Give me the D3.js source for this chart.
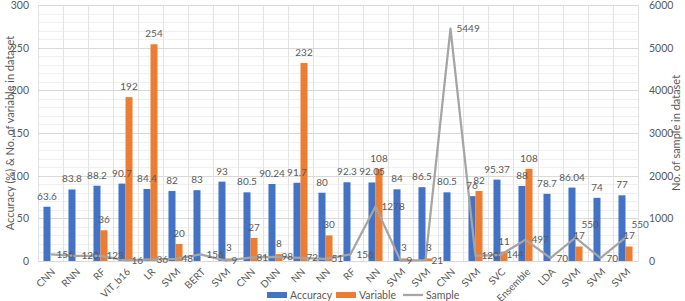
<!DOCTYPE html>
<html lang="en">
<head>
  <meta charset="UTF-8">
  <title>Accuracy / Variable / Sample</title>
  <script src="https://cdn.jsdelivr.net/npm/d3@7"></script>
  <style>
    body { margin: 0; background: #fff; }
    text { font-family: Lato, "Open Sans", sans-serif; fill: #595959; }
  </style>
</head>
<body>
  <svg width="685" height="301"></svg>
<script>
  // data
  const models = ["CNN", "RNN", "RF", "ViT_b16", "LR", "SVM", "BERT", "SVM", "CNN", "DNN", "NN", "NN",
    "RF", "NN", "SVM", "SVM", "CNN", "SVM", "SVC", "Ensemble", "LDA", "SVM", "SVM", "SVM"];
  const accuracy = [63.6, 83.8, 88.2, 90.7, 84.4, 82, 83, 93, 80.5, 90.24, 91.7, 80,
    92.3, 92.05, 84, 86.5, 80.5, 76, 95.37, 88, 78.7, 86.04, 74, 77];
  const variable = [null, null, 36, 192, 254, 20, null, 3, 27, 8, 232, 30,
    null, 108, 3, 3, null, 82, 11, 108, null, 17, null, 17];
  const sample = [156, 120, 123, 16, 36, 48, 156, 9, 81, 98, 72, 51,
    156, 1278, 9, 21, 5449, 120, 144, 497, 70, 550, 70, 550];
  const leftTicks = [0, 50, 100, 150, 200, 250, 300];
  const rightTicks = [0, 1000, 2000, 3000, 4000, 5000, 6000];

  const svg = d3.select("svg");
  const margin = { left: 38, top: 5, right: 47, bottom: 40 };
  const W = 685, H = 301;
  const x0 = margin.left, x1 = W - margin.right;
  const y0 = H - margin.bottom, y1 = margin.top;

  const idx = d3.range(models.length);
  const x = d3.scaleBand().domain(idx).range([x0, x1]);
  const xs = d3.scaleBand().domain(["Accuracy", "Variable"]).range([0, x.bandwidth()])
    .paddingInner(0).paddingOuter(0.78);
  const yL = d3.scaleLinear().domain([0, 300]).range([y0, y1]);
  const yR = d3.scaleLinear().domain([0, 6000]).range([y0, y1]);

  const blue = "#4472c4", orange = "#ed7d31", grey = "#a5a5a5";

  // grid
  const grid = svg.append("g");
  grid.selectAll(".minor").data(d3.range(0, 301, 10).filter(v => v % 50 != 0))
    .join("line")
    .attr("x1", x0).attr("x2", x1)
    .attr("y1", d => Math.round(yL(d)) + 0.5).attr("y2", d => Math.round(yL(d)) + 0.5)
    .attr("stroke", "#f0f0f0");
  grid.selectAll(".vert").data(d3.range(models.length + 1))
    .join("line")
    .attr("x1", i => Math.round(x0 + i * x.step()) + 0.5)
    .attr("x2", i => Math.round(x0 + i * x.step()) + 0.5)
    .attr("y1", y1).attr("y2", y0)
    .attr("stroke", "#e3e3e3");
  grid.selectAll(".major").data(leftTicks)
    .join("line")
    .attr("x1", x0).attr("x2", x1)
    .attr("y1", d => Math.round(yL(d)) + 0.5).attr("y2", d => Math.round(yL(d)) + 0.5)
    .attr("stroke", "#d9d9d9");

  // axes
  const axL = svg.append("g").attr("transform", `translate(${x0 - 6},0)`)
    .call(d3.axisLeft(yL).tickValues(leftTicks).tickSize(0).tickPadding(3));
  const axR = svg.append("g").attr("transform", `translate(${x1 + 8},0)`)
    .call(d3.axisRight(yR).tickValues(rightTicks).tickSize(0).tickPadding(3).tickFormat(d3.format("d")));
  [axL, axR].forEach(a => {
    a.select(".domain").remove();
    a.selectAll("text").attr("font-size", 10.5).attr("fill", "#595959").attr("font-family", "Lato, sans-serif");
  });

  const axB = svg.append("g").attr("transform", `translate(0,${y0})`)
    .call(d3.axisBottom(x).tickSize(0).tickFormat(i => models[i]));
  axB.select(".domain").attr("stroke", "#d9d9d9");
  axB.selectAll("text")
    .attr("font-size", 10).attr("fill", "#595959").attr("font-family", "Lato, sans-serif")
    .attr("text-anchor", "end")
    .attr("y", 0).attr("dy", "0.35em")
    .attr("transform", "translate(3,9) rotate(-45)");

  // titles
  svg.append("text")
    .attr("transform", `translate(14,${(y0 + y1) / 2}) rotate(-90)`)
    .attr("text-anchor", "middle").attr("font-size", 11)
    .text("Accuracy (%) & No. of variable in dataset");
  svg.append("text")
    .attr("transform", `translate(680,${(y0 + y1) / 2}) rotate(-90)`)
    .attr("text-anchor", "middle").attr("font-size", 11)
    .text("No. of sample in dataset");

  // bars
  const bars = svg.append("g");
  bars.selectAll(".acc").data(idx)
    .join("rect")
    .attr("x", i => x(i) + xs("Accuracy"))
    .attr("width", xs.bandwidth())
    .attr("y", i => yL(accuracy[i]))
    .attr("height", i => y0 - yL(accuracy[i]))
    .attr("fill", blue);
  bars.selectAll(".var").data(idx.filter(i => variable[i] != null))
    .join("rect")
    .attr("x", i => x(i) + xs("Variable"))
    .attr("width", xs.bandwidth())
    .attr("y", i => yL(variable[i]))
    .attr("height", i => y0 - yL(variable[i]))
    .attr("fill", orange);

  // sample line
  const line = d3.line()
    .x(i => x(i) + x.bandwidth() / 2)
    .y(i => yR(sample[i]));
  svg.append("path").datum(idx)
    .attr("d", line)
    .attr("fill", "none").attr("stroke", grey).attr("stroke-width", 2.25)
    .attr("stroke-linejoin", "round");

  // labels
  const labels = svg.append("g").attr("font-size", 10);
  labels.selectAll(".la").data(idx)
    .join("text")
    .attr("x", i => x(i) + xs("Accuracy") + xs.bandwidth() / 2)
    .attr("y", i => yL(accuracy[i]) - 7)
    .attr("text-anchor", "middle")
    .text(i => accuracy[i]);
  const varLab = labels.selectAll(".lv").data(idx.filter(i => variable[i] != null))
    .join("text")
    .attr("x", i => x(i) + xs("Variable") + xs.bandwidth() / 2)
    .attr("y", i => yL(variable[i]) - 7)
    .attr("text-anchor", "middle")
    .text(i => variable[i]);
  const boxes = varLab.nodes().map(n => n.getBBox());
  labels.selectAll(".ls").data(idx)
    .join("text")
    .attr("x", i => x(i) + x.bandwidth() / 2 + 6)
    .attr("y", i => yR(sample[i]))
    .attr("dy", "0.35em")
    .text(i => sample[i])
    .each(function () {
      // push the sample label up when it really sits on a variable label
      const b = this.getBBox();
      const pad = 3;
      const hit = boxes.find(o => b.x < o.x + o.width && o.x < b.x + b.width &&
        b.y + pad < o.y + o.height - pad && o.y + pad < b.y + b.height - pad);
      if (hit) d3.select(this).attr("y", hit.y - b.height / 2 + 1);
    });

  // legend
  const legend = svg.append("g").attr("font-size", 10.5);
  const items = [
    { name: "Accuracy", kind: "rect", color: blue, x: 267 },
    { name: "Variable", kind: "rect", color: orange, x: 336 },
    { name: "Sample", kind: "line", color: grey, x: 403 }
  ];
  items.forEach(it => {
    if (it.kind == "rect") {
      legend.append("rect").attr("x", it.x).attr("y", 292).attr("width", 20).attr("height", 6).attr("fill", it.color);
    } else {
      legend.append("line").attr("x1", it.x).attr("x2", it.x + 20).attr("y1", 295).attr("y2", 295)
        .attr("stroke", it.color).attr("stroke-width", 2.25);
    }
    legend.append("text").attr("x", it.x + 23).attr("y", 295).attr("dy", "0.35em").text(it.name);
  });
</script>
</body>
</html>
